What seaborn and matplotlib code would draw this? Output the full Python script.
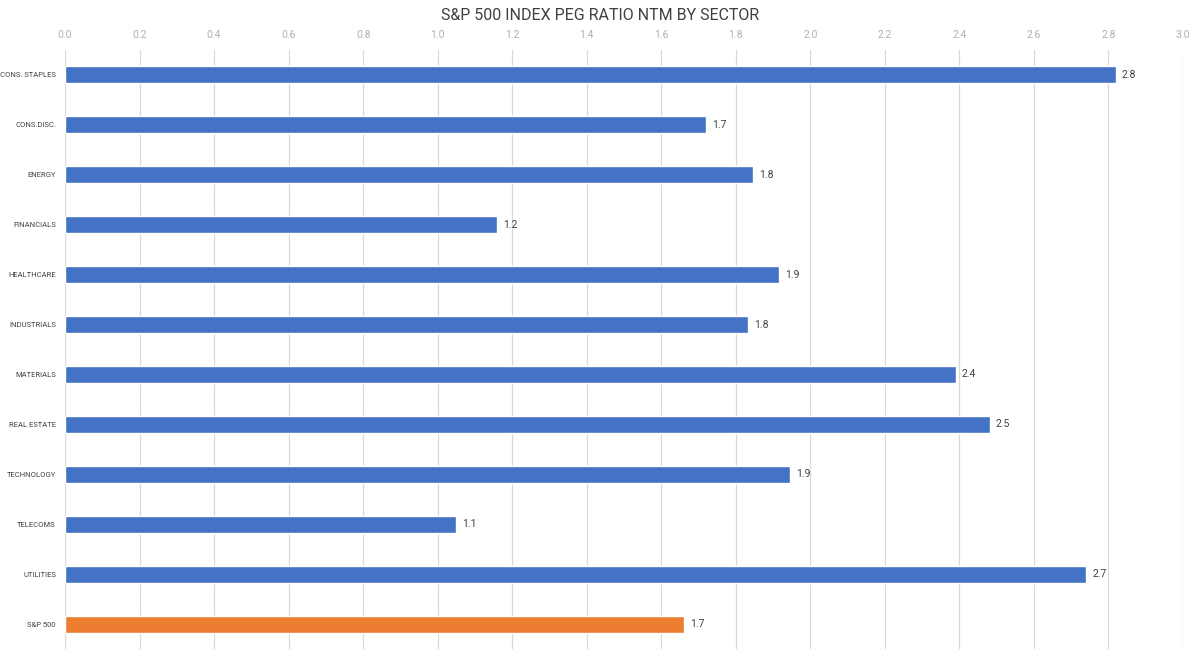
import matplotlib
matplotlib.use("Agg")
import matplotlib.pyplot as plt
import seaborn as sns
import pandas as pd

sectors = ["CONS. STAPLES", "CONS.DISC.", "ENERGY", "FINANCIALS", "HEALTHCARE",
           "INDUSTRIALS", "MATERIALS", "REAL ESTATE", "TECHNOLOGY", "TELECOMS",
           "UTILITIES", "S&P 500"]
peg = [2.82, 1.72, 1.846, 1.159, 1.916, 1.833, 2.391, 2.482, 1.945, 1.05, 2.74, 1.661]
groups = ["Sector"] * 11 + ["Index"]
x_ticks = [0.0, 0.2, 0.4, 0.6, 0.8, 1.0, 1.2, 1.4, 1.6, 1.8, 2.0, 2.2, 2.4, 2.6, 2.8, 3.0]

df = pd.DataFrame({"sector": sectors, "peg": peg, "group": groups})

sns.set_theme(style="white")
plt.rcParams["font.family"] = ["Roboto", "DejaVu Sans"]

fig = plt.figure(figsize=(12, 6.6), dpi=100)
ax = fig.add_axes([65 / 1200, 1 - 649 / 660, (1183 - 65) / 1200, (649 - 50) / 660])

sns.barplot(data=df, x="peg", y="sector", hue="group",
            palette={"Sector": "#4472C4", "Index": "#ED7D31"},
            dodge=False, width=0.34, legend=False, ax=ax, saturation=1)

ax.set_xlim(0, 3.0)
ax.set_ylim(11.5, -0.5)
ax.set_xticks(x_ticks)
ax.set_xticklabels([f"{t:.1f}" for t in x_ticks], color="#b0b0b0", fontsize=7.5)
ax.xaxis.tick_top()
ax.tick_params(axis="x", length=0, pad=7)
ax.tick_params(axis="y", length=0, pad=6.5, labelsize=5.5, labelcolor="#404040")
ax.grid(axis="x", color="#d9d9d9", linewidth=0.9)
ax.set_axisbelow(True)
for s in ax.spines.values():
    s.set_visible(False)
ax.set_xlabel("")
ax.set_ylabel("")

for i, v in enumerate(peg):
    ax.text(v + 0.016, i, f"{v:.1f}", va="center", ha="left", fontsize=7.5, color="#404040")

fig.text(0.5, 1 - 16 / 660, "S&P 500 INDEX PEG RATIO NTM BY SECTOR", ha="center", va="center",
         fontsize=11.5, color="#404040")

fig.savefig("out.png", dpi=100)
